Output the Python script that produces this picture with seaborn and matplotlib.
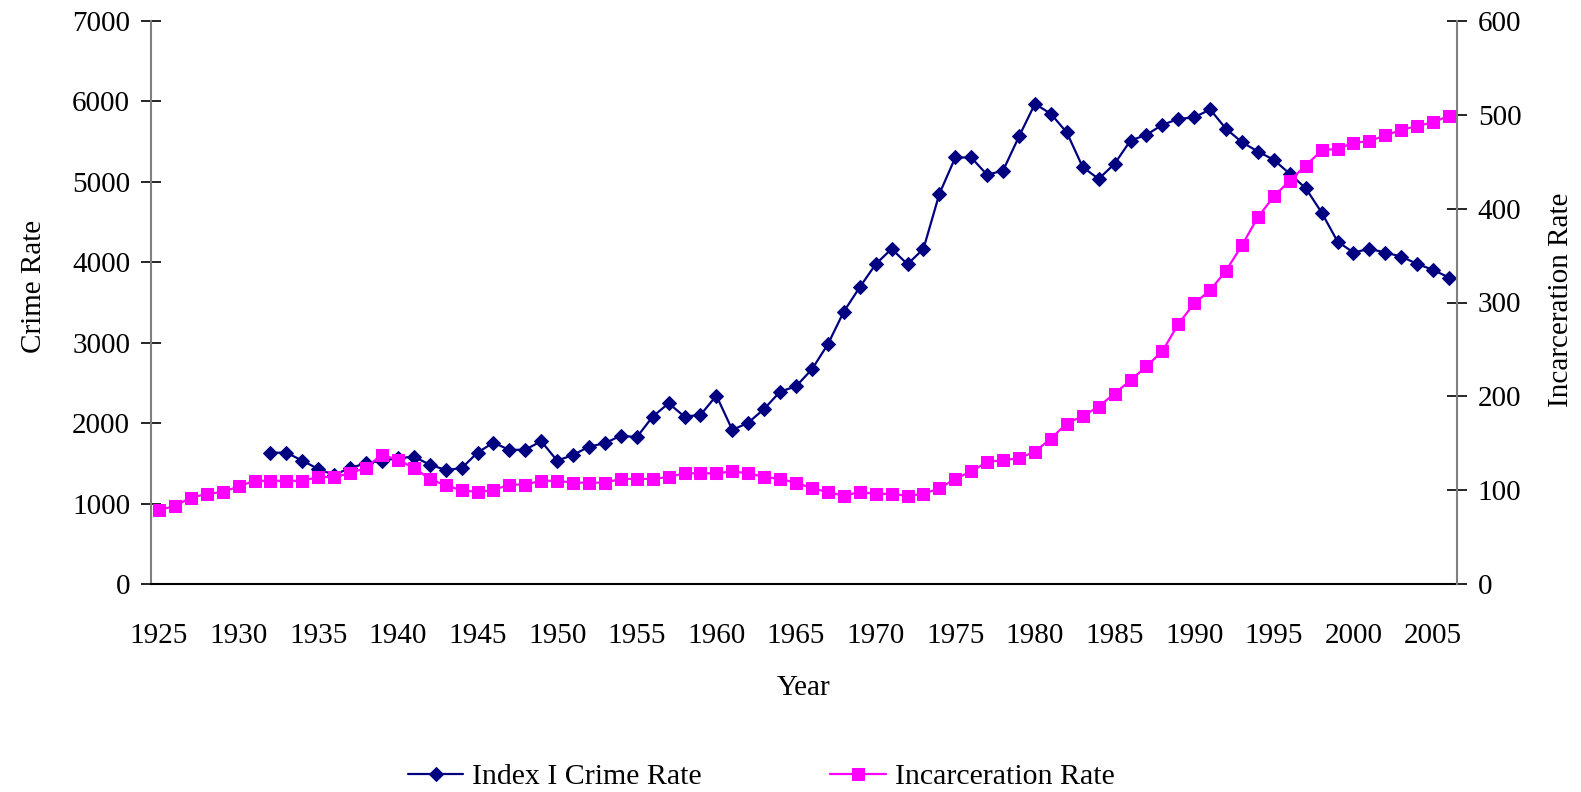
#!/usr/bin/env python3
"""Crime rate vs incarceration rate, 1925-2006 (dual y-axis line chart)."""

import matplotlib
matplotlib.use("Agg")
import matplotlib.pyplot as plt
from matplotlib.ticker import FixedLocator
import seaborn as sns

# ---- data -----------------------------------------------------------------
incarceration_years = list(range(1925, 2007))
incarceration_rate = [
    79, 83, 92, 96, 98, 104, 110, 110, 110, 110,        # 1925-1934
    114, 114, 118, 124, 138, 132, 124, 112, 105, 100,   # 1935-1944
    98, 100, 106, 106, 110, 110, 108, 108, 108, 112,    # 1945-1954
    112, 112, 114, 118, 118, 118, 120, 118, 114, 112,   # 1955-1964
    108, 102, 98, 94, 98, 96, 96, 94, 96, 102,          # 1965-1974
    112, 120, 130, 132, 134, 141, 155, 171, 179, 189,   # 1975-1984
    203, 217, 232, 248, 277, 299, 313, 334, 361, 391,   # 1985-1994
    413, 430, 446, 462, 464, 470, 472, 478, 484, 488,   # 1995-2004
    492, 499,                                           # 2005-2006
]

crime_years = list(range(1932, 2007))
crime_rate = [
    1633, 1633, 1534,                                           # 1932-1934
    1430, 1356, 1443, 1501, 1534, 1563, 1584, 1484, 1418, 1439, # 1935-1944
    1633, 1758, 1667, 1670, 1775, 1534, 1604, 1708, 1750, 1845, # 1945-1954
    1825, 2081, 2247, 2081, 2102, 2342, 1915, 2006, 2177, 2392, # 1955-1964
    2458, 2670, 2981, 3387, 3690, 3976, 4167, 3976, 4167, 4851, # 1965-1974
    5303, 5303, 5087, 5141, 5564, 5970, 5846, 5614, 5183, 5037, # 1975-1984
    5224, 5514, 5585, 5709, 5782, 5802, 5900, 5659, 5493, 5377, # 1985-1994
    5274, 5100, 4921, 4619, 4258, 4121, 4167, 4121, 4071, 3980, # 1995-2004
    3905, 3810,                                                 # 2005-2006
]

year_labels = [1925, 1930, 1935, 1940, 1945, 1950, 1955, 1960, 1965,
               1970, 1975, 1980, 1985, 1990, 1995, 2000, 2005]
crime_ticks = [0, 1000, 2000, 3000, 4000, 5000, 6000, 7000]
incarceration_ticks = [0, 100, 200, 300, 400, 500, 600]

NAVY = "#000080"
MAGENTA = "#FF00FF"
AXIS_GREY = "#7f7f7f"

# ---- style ----------------------------------------------------------------
sns.set_style("white")
plt.rcParams.update({
    "font.family": ["Liberation Serif", "DejaVu Serif"],
    "font.size": 21,
    "text.color": "black",
    "axes.labelcolor": "black",
    "xtick.color": "black",
    "ytick.color": "black",
})

fig = plt.figure(figsize=(15.81, 7.92), dpi=100)
ax = fig.add_axes([151 / 1581, 1 - 584 / 792, (1457 - 151) / 1581, (584 - 21) / 792])
ax2 = ax.twinx()

sns.lineplot(x=crime_years, y=crime_rate, ax=ax, color=NAVY, marker="D",
             markersize=7, markeredgecolor=NAVY, linewidth=1.6,
             label="Index I Crime Rate", legend=False)
sns.lineplot(x=incarceration_years, y=incarceration_rate, ax=ax2, color=MAGENTA,
             marker="s", markersize=8.3, markeredgecolor=MAGENTA, linewidth=1.6,
             label="Incarceration Rate", legend=False)

# ---- axes -----------------------------------------------------------------
ax.set_xlim(1924.5, 2006.5)
ax.set_ylim(0, 7000)
ax2.set_ylim(0, 600)

ax.xaxis.set_major_locator(FixedLocator(year_labels))
ax.xaxis.set_minor_locator(FixedLocator([y - 0.5 for y in range(1925, 2008)]))
ax.tick_params(axis="x", which="major", length=0, pad=28, labelsize=21)
ax.tick_params(axis="x", which="minor", direction="inout", length=13,
               width=1.2, color=AXIS_GREY)

ax.set_yticks(crime_ticks)
ax.tick_params(axis="y", direction="inout", length=14, width=1.2,
               color="black", pad=8, labelsize=21, left=True)
ax2.set_yticks(incarceration_ticks)
ax2.tick_params(axis="y", direction="inout", length=14, width=1.2,
                color="black", pad=8, labelsize=21, right=True)

for a in (ax, ax2):
    a.grid(False)
    a.spines["top"].set_visible(False)
ax.spines["right"].set_visible(False)
ax.spines["left"].set_color(AXIS_GREY)
ax.spines["left"].set_linewidth(1.5)
ax.spines["bottom"].set_color("black")
ax.spines["bottom"].set_linewidth(1.5)
ax2.spines["left"].set_visible(False)
ax2.spines["bottom"].set_visible(False)
ax2.spines["right"].set_color(AXIS_GREY)
ax2.spines["right"].set_linewidth(1.5)

ax.set_xlabel("Year", fontsize=21)
ax.xaxis.set_label_coords(0.4993, -0.162)
ax.set_ylabel("Crime Rate", fontsize=21)
ax.yaxis.set_label_coords(-0.080, 0.529)
ax2.set_ylabel("Incarceration Rate", fontsize=21)
ax2.yaxis.set_label_coords(1.070, 0.504)

# ---- legend ---------------------------------------------------------------
h1, l1 = ax.get_legend_handles_labels()
h2, l2 = ax2.get_legend_handles_labels()
fig.legend(h1 + h2, l1 + l2, loc="center", bbox_to_anchor=(0.4815, 0.019),
           ncol=2, frameon=False, fontsize=21.5, handlelength=1.85,
           handletextpad=0.3, columnspacing=4.3)

fig.savefig("out.png", dpi=100)
